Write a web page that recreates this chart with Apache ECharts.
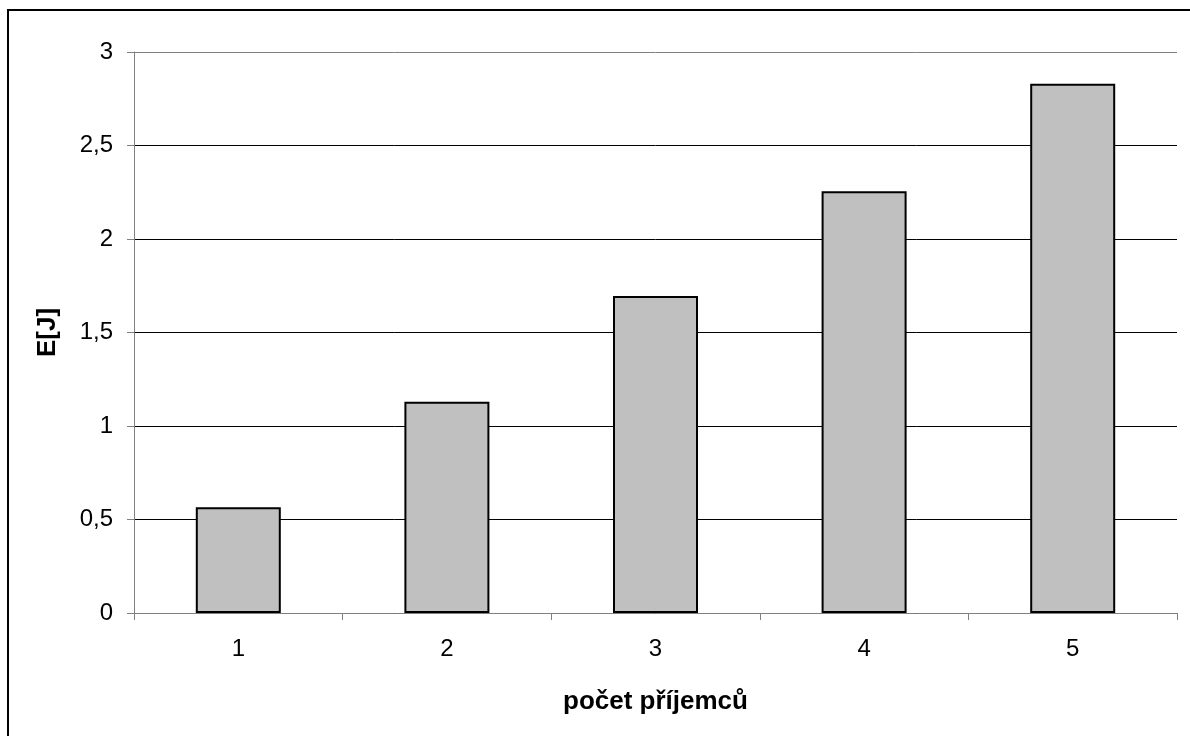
<!DOCTYPE html>
<html>
<head>
<meta charset="utf-8">
<script src="https://cdn.jsdelivr.net/npm/echarts@6/dist/echarts.min.js"></script>
<style>html,body{margin:0;padding:0;background:#fff}#c{width:1190px;height:736px}</style>
</head>
<body>
<div id="c"></div>
<script>
const categories = ['1', '2', '3', '4', '5'];
const energy = [0.565, 1.13, 1.695, 2.255, 2.83];
const xTitle = 'počet příjemců';
const yTitle = 'E[J]';

const chart = echarts.init(document.getElementById('c'));
chart.setOption({
  backgroundColor: '#fff',
  animation: false,
  graphic: [{
    type: 'rect',
    shape: { x: 8, y: 10, width: 1300, height: 900 },
    style: { fill: 'none', stroke: '#000', lineWidth: 2 },
    silent: true
  }],
  grid: { left: 134, right: 13, top: 52, bottom: 123 },
  xAxis: {
    type: 'category',
    data: categories,
    name: xTitle,
    nameLocation: 'middle',
    nameGap: 76,
    nameTextStyle: { fontFamily: 'Liberation Sans', fontWeight: 'bold', fontSize: 26, color: '#000' },
    axisLine: { lineStyle: { color: '#808080', width: 1 } },
    axisTick: { show: true, length: 7, lineStyle: { color: '#808080' } },
    axisLabel: { fontFamily: 'Liberation Sans', fontSize: 24, color: '#000', margin: 24 },
    splitLine: { show: false }
  },
  yAxis: {
    type: 'value',
    min: 0, max: 3, interval: 0.5,
    name: yTitle,
    nameLocation: 'middle',
    nameGap: 73,
    nameRotate: 90,
    nameTextStyle: { fontFamily: 'Liberation Sans', fontWeight: 'bold', fontSize: 26, color: '#000' },
    axisLine: { show: true, lineStyle: { color: '#808080', width: 1 } },
    axisTick: { show: true, length: 7, lineStyle: { color: '#808080' } },
    axisLabel: {
      fontFamily: 'Liberation Sans', fontSize: 24, color: '#000', margin: 21,
      formatter: v => String(v).replace('.', ',')
    },
    splitLine: { show: true, lineStyle: { color: ['#000', '#000', '#000', '#000', '#000', '#000', '#808080'], width: 1 } }
  },
  series: [{
    type: 'bar',
    data: energy,
    barWidth: 85,
    itemStyle: { color: '#C0C0C0', borderColor: '#000', borderWidth: 2 }
  }]
});
</script>
</body>
</html>
